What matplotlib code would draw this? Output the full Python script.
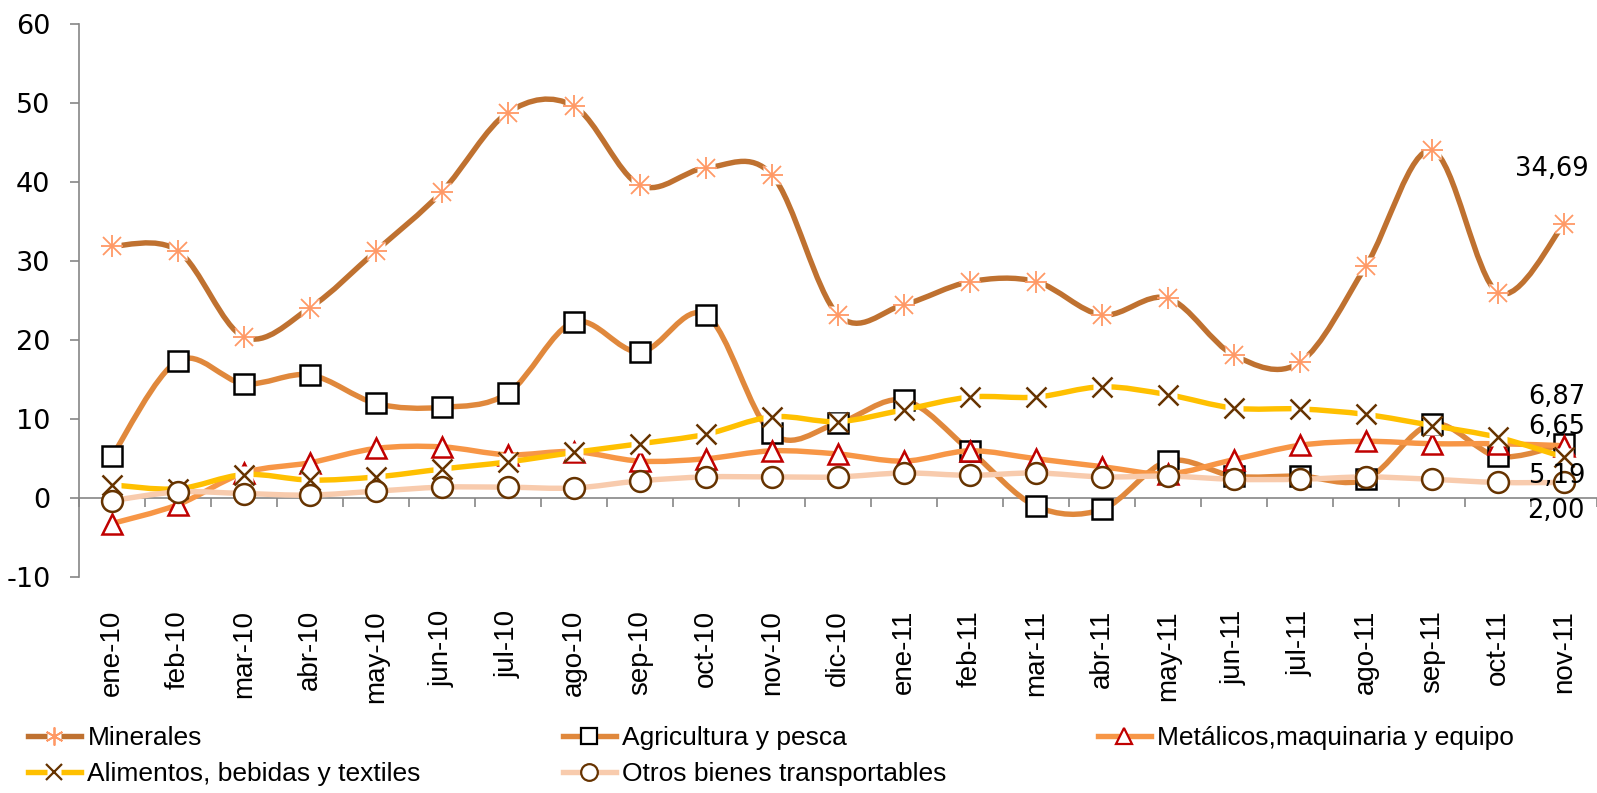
import matplotlib
matplotlib.use("Agg")
import matplotlib.pyplot as plt
import numpy as np
from matplotlib.path import Path
from matplotlib.patches import PathPatch
from matplotlib.lines import Line2D
from matplotlib.legend_handler import HandlerTuple

plt.rcParams["axes.unicode_minus"] = False

months = ["ene-10", "feb-10", "mar-10", "abr-10", "may-10", "jun-10", "jul-10",
          "ago-10", "sep-10", "oct-10", "nov-10", "dic-10", "ene-11", "feb-11",
          "mar-11", "abr-11", "may-11", "jun-11", "jul-11", "ago-11", "sep-11",
          "oct-11", "nov-11"]

minerales = [31.9, 31.3, 20.4, 24.1, 31.3, 38.8, 48.8, 49.6, 39.6, 41.8, 40.9, 23.2,
             24.5, 27.4, 27.4, 23.2, 25.3, 18.1, 17.2, 29.4, 44.0, 26.0, 34.69]
agricultura = [5.3, 17.4, 14.5, 15.6, 12.0, 11.5, 13.3, 22.3, 18.5, 23.2, 8.2, 9.5,
               12.4, 6.0, -1.0, -1.4, 4.7, 2.8, 2.8, 2.4, 9.4, 5.3, 6.87]
metalicos = [-3.2, -0.8, 3.2, 4.5, 6.3, 6.5, 5.5, 5.9, 4.7, 5.0, 6.0, 5.6,
             4.7, 6.0, 5.0, 4.0, 3.1, 4.9, 6.7, 7.2, 6.9, 6.9, 6.65]
alimentos = [1.7, 1.2, 3.0, 2.3, 2.7, 3.7, 4.6, 5.8, 6.9, 8.1, 10.3, 9.7,
             11.2, 12.8, 12.8, 14.1, 13.1, 11.4, 11.3, 10.6, 9.2, 7.7, 5.19]
otros = [-0.3, 0.8, 0.6, 0.4, 0.9, 1.4, 1.4, 1.3, 2.2, 2.7, 2.7, 2.7,
         3.2, 2.9, 3.2, 2.7, 2.8, 2.4, 2.4, 2.7, 2.4, 2.0, 2.00]

names = ["Minerales", "Agricultura y pesca", "Metálicos,maquinaria y equipo",
         "Alimentos, bebidas y textiles", "Otros bienes transportables"]

GRAY = "#868686"


def smooth_path(xs, ys):
    # bezier segments through the points (excel style smoothing)
    p = np.column_stack([xs, ys]).astype(float)
    n = len(p)
    verts = [p[0]]
    codes = [Path.MOVETO]
    for i in range(n - 1):
        p0 = p[i - 1] if i > 0 else p[i]
        p3 = p[i + 2] if i + 2 < n else p[i + 1]
        c1 = p[i] + (p[i + 1] - p0) / 6
        c2 = p[i + 1] - (p3 - p[i]) / 6
        verts += [c1, c2, p[i + 1]]
        codes += [Path.CURVE4] * 3
    return Path(verts, codes)


fig = plt.figure(figsize=(15.97, 7.93), dpi=100)
ax = fig.add_axes([79 / 1597, (793 - 577.3) / 793, (1597 - 79) / 1597, (577.3 - 24) / 793])
x = np.arange(len(months))

styles = [
    # line colour, marker, marker edge, face, size, white backing
    dict(lc="#BF7130", m="*", mec="#FF9966", mfc="none", ms=0, bg=True),
    dict(lc="#E0883C", m="s", mec="black", mfc="white", ms=14.5, bg=False),
    dict(lc="#F79646", m="^", mec="#C00000", mfc="white", ms=14.5, bg=False),
    dict(lc="#FFC000", m="x", mec="#663300", mfc="none", ms=15, bg=True),
    dict(lc="#F8CBAD", m="o", mec="#663300", mfc="white", ms=15, bg=False),
]
series = [minerales, agricultura, metalicos, alimentos, otros]

handles = []
for k, (vals, st) in enumerate(zip(series, styles)):
    z = 3 + k * 3
    ax.add_patch(PathPatch(smooth_path(x, vals), fill=False, edgecolor=st["lc"],
                           lw=3.9, capstyle="butt", joinstyle="round", zorder=z))
    parts = [Line2D([], [], color=st["lc"], lw=3.9)]
    if st["bg"]:
        ax.plot(x, vals, ls="none", marker="s", ms=13, mfc="white", mec="none", zorder=z + 1)
        parts.append(Line2D([], [], ls="none", marker="s", ms=10, mfc="white", mec="none"))
    if st["m"] == "*":
        # asterisk drawn as plus + x
        for mk in ["+", "x"]:
            ax.plot(x, vals, ls="none", marker=mk, ms=16 if mk == "+" else 13,
                    mec=st["mec"], mew=1.3, zorder=z + 2)
        parts.append(Line2D([], [], ls="none", marker=(6, 2, 0), ms=13, mec=st["mec"], mew=1.3))
    else:
        ax.plot(x, vals, ls="none", marker=st["m"], ms=st["ms"], mec=st["mec"],
                mfc=st["mfc"], mew=1.8, zorder=z + 2)
        parts.append(Line2D([], [], ls="none", marker=st["m"], ms=st["ms"] * 0.8,
                            mec=st["mec"], mfc=st["mfc"], mew=1.6))
    handles.append(tuple(parts))

ax.set_xlim(-0.5, 22.5)
ax.set_ylim(-10, 60)
for s in ["top", "right", "bottom"]:
    ax.spines[s].set_visible(False)
ax.spines["left"].set_color(GRAY)
ax.spines["left"].set_linewidth(1.2)
ax.set_yticks(range(-10, 61, 10))
ax.tick_params(axis="y", length=6.5, width=1.2, color=GRAY, pad=14, labelsize=19.5)
ax.set_xticks(x)
ax.set_xticklabels(months, rotation=90, fontsize=20, family="Liberation Sans")
ax.tick_params(axis="x", length=0, pad=23.5)

zero = ax.secondary_xaxis(1 / 7)
zero.set_xticks(np.arange(-0.5, 23, 1))
zero.tick_params(length=6.5, width=1.2, color=GRAY, labelbottom=False)
zero.spines["bottom"].set_color(GRAY)
zero.spines["bottom"].set_linewidth(1.2)

# data labels of the last month
last = len(months) - 1
labels = [(minerales[last], "34,69", -12, 55, "center"),
          (agricultura[last], "6,87", 21, 47, "right"),
          (metalicos[last], "6,65", 21, 19, "right"),
          (alimentos[last], "5,19", 21, -19, "right"),
          (otros[last], "2,00", 21, -29, "right")]
for val, txt, dx, dy, ha in labels:
    ax.annotate(txt, (last, val), xytext=(dx, dy), textcoords="offset pixels",
                ha=ha, va="center", fontsize=18.5, zorder=30)

cols = [[0, 3], [1, 4], [2]]
xs_leg = [28, 563, 1098]
for col, xl in zip(cols, xs_leg):
    fig.legend([handles[i] for i in col], [names[i] for i in col],
               handler_map={tuple: HandlerTuple(ndivide=1)},
               loc="upper left", bbox_to_anchor=(xl / 1597, (793 - 726) / 793),
               frameon=False, borderpad=0, borderaxespad=0, handlelength=2.0,
               handletextpad=0.25, labelspacing=0.45,
               prop={"family": "Liberation Sans", "size": 19})

fig.savefig("out.png", dpi=100)
